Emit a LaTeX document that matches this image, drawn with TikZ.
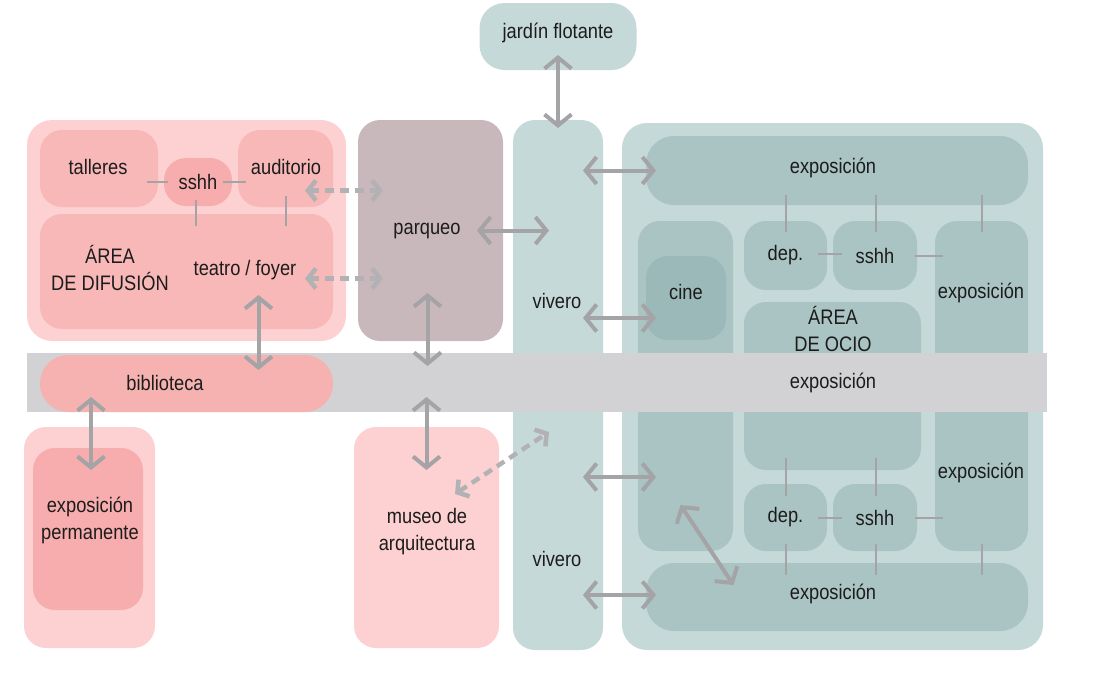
\documentclass[tikz,border=0pt]{standalone}
\usepackage{fontspec}
\setmainfont{Liberation Sans}[FakeStretch=0.87]
\usetikzlibrary{arrows.meta, positioning, calc}

\definecolor{rosaClaro}{HTML}{FDD1D2}
\definecolor{rosa}{HTML}{F9B8B8}
\definecolor{rosaFuerte}{HTML}{F7ADAD}
\definecolor{salmon}{HTML}{F6B2B0}
\definecolor{malva}{HTML}{C8B8BC}
\definecolor{verdeClaro}{HTML}{C6D9D9}
\definecolor{verde}{HTML}{AAC3C3}
\definecolor{verdeOscuro}{HTML}{9CB9B9}
\definecolor{franja}{HTML}{D2D2D4}
\definecolor{flecha}{HTML}{A4A4A6}
\definecolor{punteada}{HTML}{B2B2B4}
\definecolor{texto}{HTML}{1C1C1C}

\begin{document}
\begin{tikzpicture}[
    x=1pt, y=-1pt,
    every node/.style={font=\fontsize{21}{27}\selectfont, text=texto},
    zona/.style={rectangle, fill=#1, rounded corners=22pt, inner sep=0pt, outer sep=0pt},
    etiqueta/.style={align=center, inner sep=0pt},
    flujo/.style={draw=flecha, line width=4pt, {Straight Barb[length=11pt,width=27pt]}-{Straight Barb[length=11pt,width=27pt]}},
    punto/.style={draw=punteada, line width=4.5pt, dash pattern=on 9pt off 6pt, {Straight Barb[length=8pt,width=20pt]}-{Straight Barb[length=8pt,width=20pt]}},
    enlace/.style={draw=flecha, line width=2pt}
]
    \useasboundingbox (0,0) rectangle (1104,686);

    % area de difusion
    \node[zona=rosaClaro, rounded corners=25pt, minimum width=319, minimum height=221] (difusion) at (186.5,230.5) {};
    \node[zona=rosa, minimum width=118, minimum height=77] (talleres) at (99,168.5) {};
    \node[zona=rosaFuerte, minimum width=68, minimum height=48] (sshhA) at (198,182) {sshh};
    \node[zona=rosa, minimum width=95, minimum height=77] (auditorio) at (285.5,168.5) {};
    \node[zona=rosa, minimum width=293, minimum height=115] (teatro) at (186.5,271.5) {};
    \node[etiqueta] (tTalleres) at (98,167) {talleres};
    \node[etiqueta] (tAuditorio) at (286,167) {auditorio};
    \node[etiqueta] (tDifusion) at (110,268) {ÁREA\\DE DIFUSIÓN};
    \node[etiqueta] (tTeatro) at (245,270) {teatro / foyer};

    % parqueo, vivero, jardin
    \node[zona=malva, minimum width=145, minimum height=221] (parqueo) at (430.5,230.5) {};
    \node[etiqueta] (tParqueo) at (427,231) {parqueo};
    \node[zona=verdeClaro, rounded corners=25pt, minimum width=157, minimum height=67] (jardin) at (558,36.5) {};
    \node[etiqueta] (tJardin) at (558,33) {jardín flotante};
    \node[zona=verdeClaro, minimum width=90, minimum height=530] (vivero) at (558,385) {};

    % area de ocio
    \node[zona=verdeClaro, rounded corners=25pt, minimum width=421, minimum height=527] (ocioOut) at (832.5,386.5) {};
    \node[zona=verde, rounded corners=28pt, minimum width=382, minimum height=69] (expoT) at (837,170.5) {};
    \node[zona=verde, minimum width=95, minimum height=330] (cineCol) at (685.5,386) {};
    \node[zona=verdeOscuro, minimum width=80, minimum height=84] (cine) at (686,298) {};
    \node[zona=verde, minimum width=83, minimum height=69] (depT) at (785.5,255.5) {dep.};
    \node[zona=verde, minimum width=84, minimum height=69] (sshhT) at (875,255.5) {sshh};
    \node[zona=verde, minimum width=177, minimum height=168] (ocio) at (832.5,386) {};
    \node[zona=verde, minimum width=93, minimum height=330] (expoR) at (981.5,386) {};
    \node[zona=verde, minimum width=83, minimum height=67] (depB) at (785.5,517.5) {dep.};
    \node[zona=verde, minimum width=84, minimum height=67] (sshhB) at (875,517.5) {sshh};
    \node[zona=verde, rounded corners=28pt, minimum width=382, minimum height=68] (expoB) at (837,597) {};
    \node[etiqueta] (tExpoT) at (833,168) {exposición};
    \node[etiqueta] (tExpoB) at (833,594) {exposición};
    \node[etiqueta] (tCine) at (686,292) {cine};
    \node[etiqueta] (tOcio) at (833,329) {ÁREA\\DE OCIO};
    \node[etiqueta] (tExpoR1) at (981,293) {exposición};
    \node[etiqueta] (tExpoR2) at (981,473) {exposición};
    \node[etiqueta] (tVivero1) at (557,301) {vivero};
    \node[etiqueta] (tVivero2) at (557,559) {vivero};

    % franja de exposicion
    \node[rectangle, fill=franja, inner sep=0pt, minimum width=1020, minimum height=59] (franja) at (537,382.5) {};
    \node[zona=salmon, rounded corners=28pt, minimum width=293, minimum height=57] (biblioteca) at (186.5,383.5) {};
    \node[etiqueta] (tBiblioteca) at (165,383) {biblioteca};
    \node[etiqueta] (tFranja) at (833,383) {exposición};

    % abajo
    \node[zona=rosaClaro, minimum width=131, minimum height=221] (permOut) at (89.5,537.5) {};
    \node[zona=rosaFuerte, minimum width=110, minimum height=162] (permIn) at (88,529) {};
    \node[etiqueta] (tPerm) at (90,520) {exposición\\permanente};
    \node[zona=rosaClaro, minimum width=145, minimum height=221] (museo) at (426.5,537.5) {};
    \node[etiqueta] (tMuseo) at (427,532) {museo de\\arquitectura};

    % enlaces
    \draw[enlace] (sshhA.west) ++(-17,0) -- ++(21,0);
    \draw[enlace] (sshhA.east) ++(-9,0) -- ++(23,0);
    \draw[enlace] (sshhA.south) ++(-2,-6) -- ++(0,26);
    \draw[enlace] (auditorio.south) ++(0,-11) -- ++(0,30);
    \draw[enlace] (depT.north) ++(0,-26) -- ++(0,37);
    \draw[enlace] (sshhT.north) ++(1,-26) -- ++(0,37);
    \draw[enlace] (expoR.north) ++(0,-26) -- ++(0,37);
    \draw[enlace] (depT.east) ++(-9,-2) -- ++(24,0);
    \draw[enlace] (sshhT.east) ++(-2,0) -- ++(28,0);
    \draw[enlace] (depB.north) ++(0,-26) -- ++(0,38);
    \draw[enlace] (sshhB.north) ++(1,-26) -- ++(0,38);
    \draw[enlace] (depB.east) ++(-9,0) -- ++(24,0);
    \draw[enlace] (sshhB.east) ++(-2,0) -- ++(28,0);
    \draw[enlace] (depB.south) ++(0,-7) -- ++(0,31);
    \draw[enlace] (sshhB.south) ++(1,-7) -- ++(0,31);
    \draw[enlace] (expoR.south) ++(0,-7) -- ++(0,31);

    % flujos
    \draw[flujo] ($(jardin.south)+(0,-15)$) -- ($(vivero.north)+(0,8)$);
    \draw[flujo] ($(parqueo.east)+(-26,0)$) -- ($(parqueo.east)+(46,0)$);
    \draw[flujo] ($(expoT.west)+(-63,0)$) -- ($(expoT.west)+(10,0)$);
    \draw[flujo] ($(cine.south west)+(-63,-22)$) -- ($(cine.south west)+(10,-22)$);
    \draw[flujo] ($(cineCol.south west)+(-55,-74)$) -- ($(cineCol.south west)+(18,-74)$);
    \draw[flujo] ($(expoB.west)+(-63,-2)$) -- ($(expoB.west)+(10,-2)$);
    \draw[flujo] ($(cineCol.south)+(-5,-46)$) -- ($(cineCol.south)+(48,34)$);
    \draw[flujo] ($(teatro.south)+(72,-34)$) -- ($(biblioteca.north)+(72,15)$);
    \draw[flujo] ($(parqueo.south)+(-3,-48)$) -- ($(parqueo.south)+(-3,25)$);
    \draw[flujo] ($(museo.north)+(0,-30)$) -- ($(museo.north)+(0,43)$);
    \draw[flujo] ($(permIn.north)+(3,-51)$) -- ($(permIn.north)+(3,22)$);

    % flujos punteados
    \draw[punto] ($(auditorio.east)+(-28,22)$) -- ($(parqueo.west)+(25,-40)$);
    \draw[punto] ($(teatro.east)+(-28,7)$) -- ($(parqueo.west)+(25,48)$);
    \draw[punto] ($(museo.north east)+(-44,67)$) -- ($(vivero.west)+(36,47)$);
\end{tikzpicture}
\end{document}
